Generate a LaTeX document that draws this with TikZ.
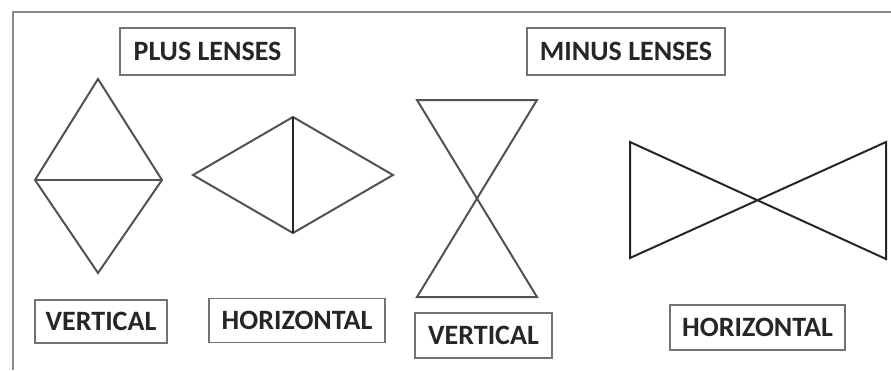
\documentclass[tikz,border=0pt]{standalone}
\usepackage{fontspec}
\setmainfont{Carlito}
\usetikzlibrary{positioning}
\tikzset{
  lensline/.style={line width=2pt, draw=black!68, line join=miter},
  tagbox/.style={draw=black!55, line width=1.4pt, font=\fontsize{28}{28}\selectfont\bfseries,
    text=black!85, inner xsep=0pt, inner ysep=0pt, minimum height=45pt},
  frameline/.style={line width=2.6pt, draw=black!45}
}
\begin{document}
\begin{tikzpicture}[x=1pt, y=-1pt]
\useasboundingbox (0,0) rectangle (891,370);
% frame
\draw[frameline] (13,370) -- (13,12) -- (891,12);
% headings
\node[tagbox, minimum width=175pt, minimum height=47pt] (plus) at (207.5,51.5) {PLUS LENSES};
\node[tagbox, minimum width=198pt, minimum height=47pt] (minus) at (626,51.5) {MINUS LENSES};
% plus lens, vertical
\coordinate (pvT) at (98,79);
\coordinate (pvL) at (35,180);
\coordinate (pvR) at (162,180);
\coordinate (pvB) at (98,273);
\draw[lensline] (pvT) -- (pvR) -- (pvB) -- (pvL) -- cycle;
\draw[lensline] (pvL) -- (pvR);
% plus lens, horizontal
\coordinate (phL) at (193,175);
\coordinate (phT) at (293,117);
\coordinate (phB) at (293,233);
\coordinate (phR) at (393,175);
\draw[lensline] (phL) -- (phT) -- (phR) -- (phB) -- cycle;
\draw[lensline, draw=black!85] (phT) -- (phB);
% minus lens, vertical
\coordinate (mvTL) at (417,100);
\coordinate (mvTR) at (537,100);
\coordinate (mvBL) at (417,297);
\coordinate (mvBR) at (537,297);
\draw[lensline] (mvTL) -- (mvTR) -- (mvBL) -- (mvBR) -- (mvTL) -- cycle;
% minus lens, horizontal
\coordinate (mhTL) at (630,142);
\coordinate (mhBL) at (630,258);
\coordinate (mhTR) at (886,142);
\coordinate (mhBR) at (886,259);
\draw[lensline, draw=black!85] (mhTL) -- (mhBR) -- (mhTR) -- (mhBL) -- cycle;
% labels
\node[tagbox, minimum width=132pt, minimum height=43pt] (pvlab) at (101,321.5) {VERTICAL};
\node[tagbox, minimum width=176pt, minimum height=44pt] (phlab) at (297,320.5) {HORIZONTAL};
\node[tagbox, minimum width=137pt] (mvlab) at (483.5,335.5) {VERTICAL};
\node[tagbox, minimum width=175pt] (mhlab) at (757.5,327.5) {HORIZONTAL};
\end{tikzpicture}
\end{document}
